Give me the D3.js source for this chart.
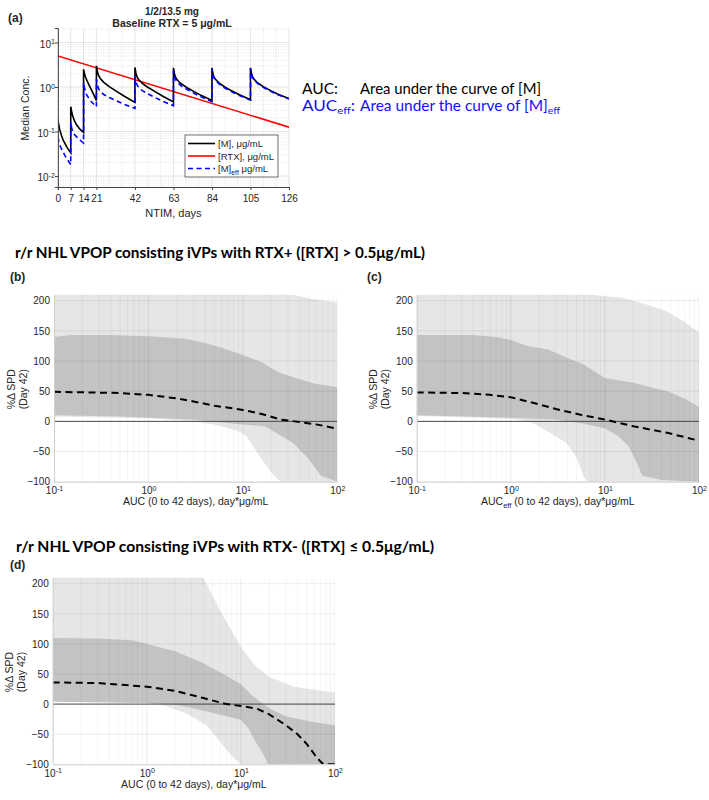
<!DOCTYPE html>
<html>
<head>
<meta charset="utf-8">
<script src="https://cdn.jsdelivr.net/npm/d3@7"></script>
<style>
body { margin: 0; background: #fff; }
svg text { font-family: "Liberation Sans", Arial, sans-serif; fill: #262626; }
</style>
</head>
<body>
<svg id="fig" width="709" height="800"></svg>
<script>
// ---- panel (a): median concentration time courses ----
var dayTicks = [0, 7, 14, 21, 42, 63, 84, 105, 126];
var dayMinor = [28, 35, 49, 56, 70, 77, 91, 98, 112, 119];
var concTicks = [0.01, 0.1, 1, 10];

// [M], ug/mL  (day, conc)
var mConc = [
  [0,0.18],[0.5,0.14],[1,0.11],[2,0.08],[3,0.062],[5,0.044],[7,0.033],
  [7,0.36],[7.5,0.28],[8,0.23],[9,0.175],[10,0.145],[12,0.113],[14,0.095],
  [14,2.5],[14.5,2.0],[15,1.7],[16,1.35],[17,1.1],[19,0.75],[21,0.5],
  [21,3.0],[21.5,2.3],[22,1.9],[23,1.58],[25,1.27],[28,1.02],[32,0.8],[36,0.63],[42,0.45],
  [42,2.75],[42.5,2.1],[43,1.75],[44,1.47],[46,1.21],[49,0.99],[53,0.79],[57,0.63],[63,0.46],
  [63,2.7],[63.5,2.05],[64,1.7],[65,1.45],[67,1.2],[70,0.99],[74,0.8],[78,0.65],[84,0.5],
  [84,2.7],[84.5,2.05],[85,1.71],[86,1.47],[88,1.22],[91,1.0],[95,0.81],[99,0.67],[105,0.52],
  [105,2.7],[105.5,2.06],[106,1.72],[107,1.48],[109,1.23],[112,1.02],[116,0.83],[120,0.69],[126,0.55]
];
// [M]eff, ug/mL
var effConc = [
  [0,0.075],[0.5,0.06],[1,0.05],[2,0.04],[4,0.028],[7,0.018],
  [7,0.16],[7.5,0.12],[8,0.1],[9,0.086],[11,0.07],[14,0.055],
  [14,1.25],[14.5,0.95],[15,0.78],[16,0.63],[18,0.48],[21,0.36],
  [21,1.5],[21.5,1.15],[22,0.95],[23,0.8],[25,0.68],[28,0.58],[32,0.49],[36,0.41],[42,0.33],
  [42,1.8],[42.5,1.4],[43,1.15],[44,0.98],[46,0.83],[49,0.7],[53,0.58],[57,0.48],[63,0.38],
  [63,2.3],[63.5,1.8],[64,1.5],[65,1.3],[67,1.08],[70,0.9],[74,0.73],[78,0.6],[84,0.47],
  [84,2.55],[84.5,1.95],[85,1.62],[86,1.4],[88,1.16],[91,0.95],[95,0.77],[99,0.64],[105,0.51],
  [105,2.65],[105.5,2.02],[106,1.68],[107,1.44],[109,1.19],[112,0.98],[116,0.8],[120,0.67],[126,0.54]
];
// [RTX], ug/mL
var rtxConc = [[0,5],[126,0.125]];

// ---- panels (b)-(d): %change SPD vs AUC, (auc, value) ----
var spdTicks = [-100, -50, 0, 50, 100, 150, 200];
var aucTicks = [0.1, 1, 10, 100];

var bLightUp = [[0.1,230],[20,228],[34,210],[50,204],[70,200],[100,197]];
var bLightLo = [[0.1,8],[0.5,6],[1,5],[2,2],[3,0],[5,-5],[9,-16],[11,-25],[15,-58],[20,-85],[25,-100],[100,-100]];
var bDarkUp = [[0.1,140],[0.15,143],[0.4,143],[1,141],[2.5,137],[4,130],[6,122],[10,110],[16,98],[20,88],[25,80],[40,70],[60,62],[100,57]];
var bDarkLo = [[0.1,10],[0.5,8],[1,6],[3,3],[6,-2],[10,-5],[17,-8],[22,-18],[34,-36],[49,-61],[67,-90],[90,-97],[100,-100]];
var bMed = [[0.1,49],[0.5,47],[1,44],[2,38],[3,33],[5,26],[10,19],[17,11],[25,3],[40,-1],[60,-5],[100,-12]];

var cLightUp = [[0.1,230],[5,228],[7,210],[15,205],[25,196],[45,183],[70,165],[100,147]];
var cLightLo = [[0.1,9],[0.5,6],[1,4],[1.6,0],[2.6,-19],[3.9,-36],[5,-60],[5.9,-90],[6.5,-100],[100,-100]];
var cDarkUp = [[0.1,143],[0.4,143],[0.7,140],[1,135],[1.5,125],[2.5,119],[4,105],[6,94],[10,72],[20,64],[46,50],[70,38],[100,24]];
var cDarkLo = [[0.1,10],[1,6],[3,3],[6,-4],[10,-12],[14,-25],[18,-42],[22,-70],[25,-90],[40,-97],[100,-100]];
var cMed = [[0.1,48],[0.3,47],[0.6,44],[1,40],[1.8,30],[3.1,20],[5.5,11],[10,3],[20,-8],[46,-19],[100,-32]];

var dLightUp = [[0.1,230],[3,230],[4,210],[6,156],[10,95],[14,65],[19.5,46],[37,29],[100,19]];
var dLightLo = [[0.1,5],[1,2],[1.5,-2],[2.6,-15],[4.3,-35],[5.5,-55],[7,-76],[8.5,-90],[10,-100],[100,-100]];
var dDarkUp = [[0.1,110],[0.3,109],[0.7,106],[1,100],[2,88],[4,68],[7,47],[10,33],[13,15],[16.6,2],[22,-10],[30,-20],[60,-30],[100,-35]];
var dDarkLo = [[0.1,4],[1,2],[2,-1],[2.7,-5],[4.6,-13],[10,-26],[12,-40],[14,-60],[16.6,-78],[19.5,-100],[100,-100]];
var dMed = [[0.1,36],[0.3,35],[1,29],[2,22],[4,10],[7,0],[10,-3],[15,-8],[20,-17],[30,-35],[40,-50],[50,-66],[65,-90],[75,-100],[100,-100]];

var svg = d3.select("#fig");

// superscript power-of-ten label
function powLabel(sel, v) {
  var e = Math.round(Math.log10(v));
  sel.text("10");
  sel.append("tspan").attr("dy", "-0.5em").style("font-size", "70%").text(e);
}

// log minor tick values in a domain
function logMinor(lo, hi) {
  var out = [];
  for (var e = -3; e <= 2; e++) {
    for (var k = 2; k <= 9; k++) {
      var v = k * Math.pow(10, e);
      if (v > lo && v < hi) out.push(v);
    }
  }
  return out;
}

// ================= panel (a) =================
(function() {
  var x = d3.scaleLinear().domain([0, 126]).range([57.9, 289]);
  var y = d3.scaleLog().domain([0.00566, 21.2]).range([187, 28]);
  var g = svg.append("g");

  g.append("clipPath").attr("id", "clipA")
    .append("rect").attr("x", x(0)).attr("y", y.range()[1])
    .attr("width", x(126) - x(0)).attr("height", y.range()[0] - y.range()[1]);

  // grid
  g.selectAll(".hmin").data(logMinor(0.00566, 21.2)).enter().append("line")
    .attr("x1", x(0)).attr("x2", x(126))
    .attr("y1", d => y(d)).attr("y2", d => y(d))
    .style("stroke", "#d4d4d4").style("stroke-width", 0.6).style("stroke-dasharray", "1,1.5");
  g.selectAll(".vmin").data(dayMinor).enter().append("line")
    .attr("x1", d => x(d)).attr("x2", d => x(d))
    .attr("y1", y.range()[0]).attr("y2", y.range()[1])
    .style("stroke", "#d4d4d4").style("stroke-width", 0.6).style("stroke-dasharray", "1,1.5");
  g.selectAll(".hmaj").data(concTicks).enter().append("line")
    .attr("x1", x(0)).attr("x2", x(126))
    .attr("y1", d => y(d)).attr("y2", d => y(d))
    .style("stroke", "#dedede").style("stroke-width", 0.8);
  g.selectAll(".vmaj").data(dayTicks).enter().append("line")
    .attr("x1", d => x(d)).attr("x2", d => x(d))
    .attr("y1", y.range()[0]).attr("y2", y.range()[1])
    .style("stroke", "#dedede").style("stroke-width", 0.8);

  var line = d3.line().x(d => x(d[0])).y(d => y(d[1]));
  var plot = g.append("g").attr("clip-path", "url(#clipA)");
  plot.append("path").datum(rtxConc).attr("d", line)
    .style("fill", "none").style("stroke", "#ff0000").style("stroke-width", 1.6);
  plot.append("path").datum(mConc).attr("d", line)
    .style("fill", "none").style("stroke", "#000").style("stroke-width", 1.6);
  plot.append("path").datum(effConc).attr("d", line)
    .style("fill", "none").style("stroke", "#0000ff").style("stroke-width", 1.6)
    .style("stroke-dasharray", "5,3.5");

  // axes
  var xa = g.append("g").attr("transform", "translate(0," + y.range()[0] + ")")
    .call(d3.axisBottom(x).tickValues(dayTicks).tickSize(3).tickFormat(d3.format("d")));
  xa.select(".domain").style("stroke", "#444");
  xa.selectAll(".tick line").style("stroke", "#444");
  xa.selectAll("text").style("font-size", "10px").attr("dy", "0.9em");
  var ya = g.append("g").attr("transform", "translate(" + x(0) + ",0)")
    .call(d3.axisLeft(y).tickValues(concTicks).tickSize(3).tickFormat(""));
  ya.select(".domain").style("stroke", "#444");
  ya.selectAll(".tick line").style("stroke", "#444");
  ya.selectAll(".tick text").each(function(d) { powLabel(d3.select(this), d); })
    .style("font-size", "10px").attr("x", -3).attr("dy", "0.45em");

  g.append("text").attr("x", (x(0) + x(126)) / 2).attr("y", 217)
    .attr("text-anchor", "middle").style("font-size", "11px").text("NTIM, days");
  g.append("text").attr("transform", "translate(29,108) rotate(-90)")
    .attr("text-anchor", "middle").style("font-size", "10.5px").text("Median Conc.");

  g.append("text").attr("x", 172).attr("y", 15).attr("text-anchor", "middle")
    .style("font-size", "10px").style("font-weight", "bold").text("1/2/13.5 mg");
  g.append("text").attr("x", 172).attr("y", 27).attr("text-anchor", "middle")
    .style("font-size", "10.5px").style("font-weight", "bold").text("Baseline RTX = 5 μg/mL");
  g.append("text").attr("x", 8).attr("y", 22)
    .style("font-size", "12px").style("font-weight", "bold").text("(a)");

  // legend
  var lg = g.append("g");
  lg.append("rect").attr("x", 185).attr("y", 135).attr("width", 93).attr("height", 42)
    .style("fill", "#fff").style("stroke", "#333").style("stroke-width", 0.7);
  var items = [
    {c: "#000", dash: null, t: "[M], μg/mL"},
    {c: "#ff0000", dash: null, t: "[RTX], μg/mL"},
    {c: "#0000ff", dash: "5,3.5", t: "[M]"}
  ];
  items.forEach(function(it, i) {
    var yy = 143.5 + i * 12.5;
    lg.append("line").attr("x1", 188).attr("x2", 215).attr("y1", yy).attr("y2", yy)
      .style("stroke", it.c).style("stroke-width", 1.6).style("stroke-dasharray", it.dash);
    var t = lg.append("text").attr("x", 218).attr("y", yy + 3.5).style("font-size", "9.5px").text(it.t);
    if (i === 2) {
      t.append("tspan").attr("dy", 2.5).style("font-size", "7px").text("eff");
      t.append("tspan").attr("dy", -2.5).text(" μg/mL");
    }
  });
})();

// ---- right-side definitions ----
var def = svg.append("g");
function defText(xx, yy, w, col, main, sub, tail) {
  var t = def.append("text").attr("x", xx).attr("y", yy).attr("textLength", w)
    .attr("lengthAdjust", "spacingAndGlyphs")
    .style("font-size", "15px").style("font-family", "Lato, sans-serif").style("fill", col).text(main);
  if (sub) t.append("tspan").attr("dy", 3).style("font-size", "10px").text(sub);
  if (tail) t.append("tspan").attr("dy", -3).text(tail);
}
defText(302, 94, 36, "#000", "AUC:");
defText(360, 94, 181, "#000", "Area under the curve of [M]");
defText(302, 111, 53, "#1010ff", "AUC", "eff", ":");
defText(360, 111, 200, "#1010ff", "Area under the curve of [M]", "eff");

// ---- section headings ----
svg.append("text").attr("x", 15).attr("y", 258).attr("textLength", 410).attr("lengthAdjust", "spacingAndGlyphs")
  .style("font-family", "Lato, sans-serif").style("font-weight", "bold").style("font-size", "15px").style("fill", "#000")
  .text("r/r NHL VPOP consisting iVPs with RTX+ ([RTX] > 0.5μg/mL)");
svg.append("text").attr("x", 16).attr("y", 552).attr("textLength", 418).attr("lengthAdjust", "spacingAndGlyphs")
  .style("font-family", "Lato, sans-serif").style("font-weight", "bold").style("font-size", "15px").style("fill", "#000")
  .text("r/r NHL VPOP consisting iVPs with RTX- ([RTX] ≤ 0.5μg/mL)");

// ================= panels (b)-(d) =================
function bandPanel(o) {
  var x = d3.scaleLog().domain([0.1, 100]).range([o.left, o.right]);
  var y = d3.scaleLinear().domain([-100, 210]).range([o.bottom, o.top]);
  var g = svg.append("g");

  g.append("clipPath").attr("id", o.id)
    .append("rect").attr("x", o.left).attr("y", o.top)
    .attr("width", o.right - o.left).attr("height", o.bottom - o.top);
  var plot = g.append("g").attr("clip-path", "url(#" + o.id + ")");

  var line = d3.line().x(d => x(d[0])).y(d => y(d[1]));
  function band(up, lo, col) {
    plot.append("path").attr("d", line(up.concat(lo.slice().reverse())) + "Z")
      .style("fill", col).style("stroke", "none");
  }
  band(o.lightUp, o.lightLo, "#e6e6e6");
  band(o.darkUp, o.darkLo, "#c3c3c3");

  // grid over the bands
  plot.selectAll(".vmin").data(logMinor(0.1, 100)).enter().append("line")
    .attr("x1", d => x(d)).attr("x2", d => x(d)).attr("y1", o.top).attr("y2", o.bottom)
    .style("stroke", "#000").style("stroke-opacity", 0.06).style("stroke-width", 0.7);
  plot.selectAll(".vmaj").data(aucTicks).enter().append("line")
    .attr("x1", d => x(d)).attr("x2", d => x(d)).attr("y1", o.top).attr("y2", o.bottom)
    .style("stroke", "#000").style("stroke-opacity", 0.1).style("stroke-width", 0.8);
  plot.selectAll(".hmaj").data(spdTicks).enter().append("line")
    .attr("x1", o.left).attr("x2", o.right).attr("y1", d => y(d)).attr("y2", d => y(d))
    .style("stroke", "#000").style("stroke-opacity", 0.1).style("stroke-width", 0.8);

  plot.append("line").attr("x1", o.left).attr("x2", o.right).attr("y1", y(0)).attr("y2", y(0))
    .style("stroke", "#4a4a4a").style("stroke-width", 1);
  plot.append("path").datum(o.med).attr("d", line)
    .style("fill", "none").style("stroke", "#000").style("stroke-width", 2)
    .style("stroke-dasharray", "7,4.5");

  // axes (labels only, light axis lines)
  var ya = g.append("g").attr("transform", "translate(" + o.left + ",0)")
    .call(d3.axisLeft(y).tickValues(spdTicks).tickSize(0).tickPadding(4));
  ya.select(".domain").style("stroke", "#cfcfcf");
  ya.selectAll("text").style("font-size", "10px");
  var xa = g.append("g").attr("transform", "translate(0," + o.bottom + ")")
    .call(d3.axisBottom(x).tickValues(aucTicks).tickSize(0).tickFormat(""));
  xa.select(".domain").style("stroke", "#cfcfcf");
  xa.selectAll(".tick text").each(function(d) { powLabel(d3.select(this), d); })
    .style("font-size", "10px").attr("y", 12.5).attr("dy", 0);

  var xl = g.append("text").attr("x", (o.left + o.right) / 2).attr("y", o.bottom + 23.5)
    .attr("text-anchor", "middle").style("font-size", "10.5px");
  if (o.eff) {
    xl.text("AUC");
    xl.append("tspan").attr("dy", 3).style("font-size", "7.5px").text("eff");
    xl.append("tspan").attr("dy", -3).text(" (0 to 42 days), day*μg/mL");
  } else {
    xl.text("AUC (0 to 42 days), day*μg/mL");
  }
  var my = (o.top + o.bottom) / 2 + 1;
  g.append("text").attr("transform", "translate(" + (o.left - 43) + "," + my + ") rotate(-90)")
    .attr("text-anchor", "middle").attr("dy", "0.35em").style("font-size", "10.5px").text("%Δ SPD");
  g.append("text").attr("transform", "translate(" + (o.left - 31) + "," + my + ") rotate(-90)")
    .attr("text-anchor", "middle").attr("dy", "0.35em").style("font-size", "10.5px").text("(Day  42)");

  g.append("text").attr("x", o.labX).attr("y", o.labY)
    .style("font-size", "12px").style("font-weight", "bold").text(o.lab);
}

bandPanel({id: "clipB", left: 54, right: 337.3, top: 294.7, bottom: 481.7,
  lightUp: bLightUp, lightLo: bLightLo, darkUp: bDarkUp, darkLo: bDarkLo, med: bMed,
  eff: false, lab: "(b)", labX: 10, labY: 281});
bandPanel({id: "clipC", left: 416.7, right: 699, top: 294.7, bottom: 481.7,
  lightUp: cLightUp, lightLo: cLightLo, darkUp: cDarkUp, darkLo: cDarkLo, med: cMed,
  eff: true, lab: "(c)", labX: 367, labY: 281});
bandPanel({id: "clipD", left: 52.7, right: 335, top: 577.7, bottom: 764.3,
  lightUp: dLightUp, lightLo: dLightLo, darkUp: dDarkUp, darkLo: dDarkLo, med: dMed,
  eff: false, lab: "(d)", labX: 10, labY: 569});
</script>
</body>
</html>
